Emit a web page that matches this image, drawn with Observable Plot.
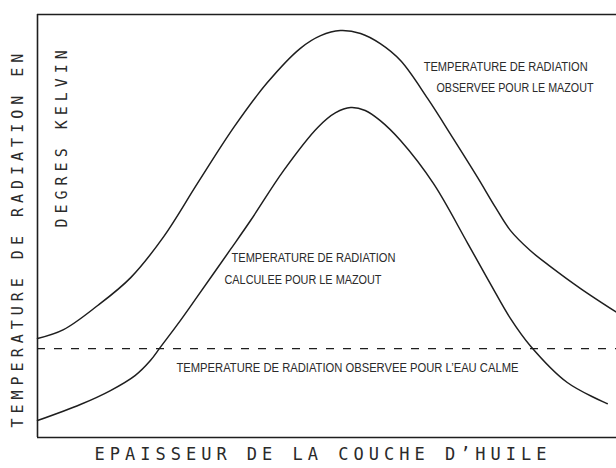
<!DOCTYPE html>
<html>
<head>
<meta charset="utf-8">
<script src="https://cdn.jsdelivr.net/npm/d3@7"></script>
<script src="https://cdn.jsdelivr.net/npm/@observablehq/plot@0.6"></script>
<style>
  html, body { margin: 0; padding: 0; background: #fff; }
  #chart svg { display: block; background: #fff; }
</style>
</head>
<body>
<div id="chart"></div>
<script>
// Oil-layer thickness (arbitrary units, 0–100) and radiation temperature (arbitrary units, 0–100)
const obsX = [0, 4.5, 10.4, 16.1, 21.8, 27.6, 33.9, 39.7, 45.4, 48.9, 52.3, 55.8, 59.2, 62.7, 67.4, 71.7, 76.0, 79.1, 81.7, 85.1, 88.6, 93.8, 100];
const obsY = [23.4, 25.5, 31.2, 37.8, 47.5, 60.0, 73.3, 83.9, 92.0, 95.0, 96.2, 95.5, 93.1, 89.1, 80.1, 70.9, 61.5, 54.4, 48.9, 44.2, 40.4, 35.2, 29.6];

const calcX = [0, 7.4, 12.6, 16.9, 19.5, 21.2, 24.7, 27.6, 33.3, 36.8, 42.5, 48.4, 51.5, 54.1, 56.6, 59.2, 62.7, 68.4, 74.3, 78.2, 81.7, 85.1, 91.5, 98.4];
const calcY = [4.0, 7.8, 11.1, 14.7, 18.2, 21.3, 27.7, 33.3, 44.4, 51.3, 63.1, 73.3, 76.8, 78.0, 77.3, 74.9, 70.2, 60.0, 45.9, 36.4, 28.1, 21.7, 13.0, 8.0];

const waterLevel = [21.0];

const annotLines = [
  "TEMPERATURE DE RADIATION",
  "OBSERVEE POUR LE MAZOUT",
  "TEMPERATURE DE RADIATION",
  "CALCULEE POUR LE MAZOUT",
  "TEMPERATURE DE RADIATION OBSERVEE POUR L\u2019EAU CALME"
];
const annotX = [66.7, 68.9, 33.5, 32.3, 24.0];
const annotY = [87.5, 82.5, 42.3, 37.1, 16.5];
const annotWidth = [164, 157, 164, 157, 342];

const xTitle = "EPAISSEUR DE LA COUCHE D\u2019HUILE";
const yTitle1 = "TEMPERATURE DE RADIATION EN";
const yTitle2 = "DEGRES KELVIN";

const observed = obsX.map((x, i) => ({x, y: obsY[i]}));
const calculated = calcX.map((x, i) => ({x, y: calcY[i]}));
const annots = annotLines.map((t, i) => ({t, x: annotX[i], y: annotY[i]}));

const ink = "#1e1e1e";
const mono = "'DejaVu Sans Mono', 'Liberation Mono', monospace";
const narrow = "'Liberation Sans Narrow', 'Liberation Sans', sans-serif";

const chart = Plot.plot({
  width: 616,
  height: 468,
  marginLeft: 37,
  marginTop: 14,
  marginBottom: 31,
  marginRight: 0,
  x: {domain: [0, 100], axis: null},
  y: {domain: [0, 100], axis: null},
  marks: [
    Plot.ruleX([0], {stroke: ink, strokeWidth: 1.6}),
    Plot.ruleY([0, 100], {stroke: ink, strokeWidth: 1.6}),
    Plot.ruleY(waterLevel, {stroke: ink, strokeWidth: 1.4, strokeDasharray: "8,9"}),
    Plot.line(observed, {x: "x", y: "y", curve: "catmull-rom", stroke: ink, strokeWidth: 1.5}),
    Plot.line(calculated, {x: "x", y: "y", curve: "catmull-rom", stroke: ink, strokeWidth: 1.5}),
    Plot.text(annots, {x: "x", y: "y", text: "t", textAnchor: "start", fontFamily: narrow, fontSize: 12, fill: "#2a2a2a"}),
    Plot.text([xTitle], {frameAnchor: "bottom-left", dx: 57, dy: 22, textAnchor: "start", fontFamily: mono, fontSize: 17, fill: "#2a2a2a"}),
    Plot.text([yTitle1], {frameAnchor: "bottom-left", dx: -15, dy: -10, rotate: -90, textAnchor: "start", fontFamily: mono, fontSize: 15, fill: "#2a2a2a"}),
    Plot.text([yTitle2], {frameAnchor: "bottom-left", dx: 29, dy: -210, rotate: -90, textAnchor: "start", fontFamily: mono, fontSize: 15, fill: "#2a2a2a"})
  ]
});

chart.querySelectorAll("text").forEach(t => {
  const s = t.textContent;
  if (s === xTitle || s === yTitle1 || s === yTitle2) {
    t.style.letterSpacing = "5px";
  }
});
// fit the narrow annotation lettering to the measured widths
const annotNodes = Array.from(chart.querySelectorAll("text")).filter(t => annotLines.includes(t.textContent));
annotNodes.forEach((t, i) => {
  if (i < annotWidth.length) {
    t.setAttribute("textLength", annotWidth[i]);
    t.setAttribute("lengthAdjust", "spacingAndGlyphs");
  }
});

document.getElementById("chart").appendChild(chart);
</script>
</body>
</html>
